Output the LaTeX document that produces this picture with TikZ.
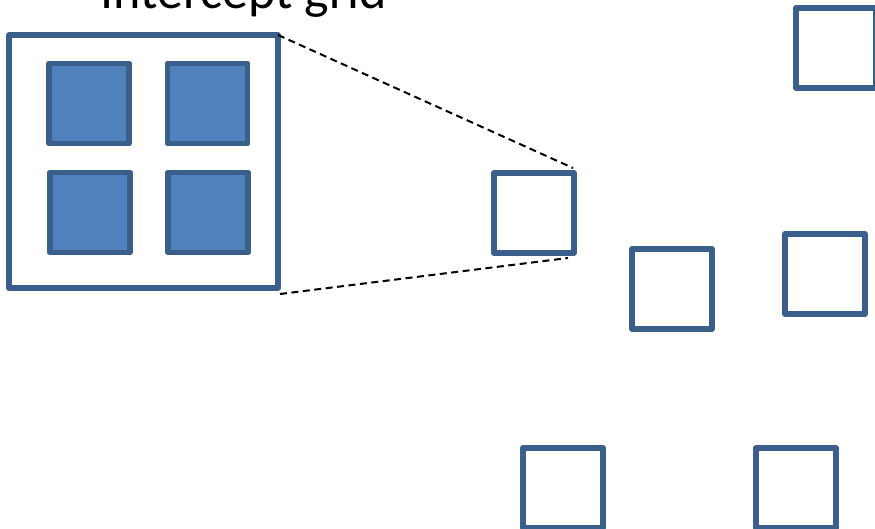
\documentclass[tikz,border=0pt]{standalone}
\usepackage{fontspec}
\setmainfont{Carlito}
\definecolor{edgeblue}{HTML}{3A5F8B}
\definecolor{fillblue}{HTML}{4F81BD}
\begin{document}
\begin{tikzpicture}[x=1pt,y=-1pt,
  cell/.style={draw=edgeblue, line width=5.8pt, line join=round, fill=fillblue,
    minimum size=80pt, inner sep=0pt, outer sep=0pt},
  patch/.style={draw=edgeblue, line width=5.8pt, line join=round, fill=white,
    minimum size=80pt, inner sep=0pt, outer sep=0pt},
  gridbox/.style={draw=edgeblue, line width=5.2pt, line join=round, fill=white,
    minimum width=269pt, minimum height=253pt, inner sep=0pt, outer sep=0pt},
  zoomline/.style={black, line width=2pt, dash pattern=on 7pt off 4.5pt}]
\useasboundingbox (0,0) rectangle (875,529);
\clip (0,0) rectangle (875,529);
% title
\node[anchor=base, inner sep=0pt, font=\fontsize{52}{60}\selectfont] (title) at (243.5,9) {Intercept grid};
% magnified grid
\node[gridbox] (grid) at (143.5,161.5) {};
\node[cell] (g11) at (89,103.5) {};
\node[cell] (g12) at (207.5,103.5) {};
\node[cell] (g21) at (90,212.5) {};
\node[cell] (g22) at (208,212.5) {};
% scattered patches
\node[patch] (A) at (534,213) {};
\node[patch] (B) at (672,289) {};
\node[patch] (C) at (825,274) {};
\node[patch] (D) at (836,48) {};
\node[patch] (E) at (563,488) {};
\node[patch] (F) at (796,488) {};
% zoom lines
\draw[zoomline] (grid.north east) -- ([shift={(-1,-5)}]A.north east);
\draw[zoomline] ([shift={(2,6)}]grid.south east) -- ([shift={(-6,5)}]A.south east);
\end{tikzpicture}
\end{document}
